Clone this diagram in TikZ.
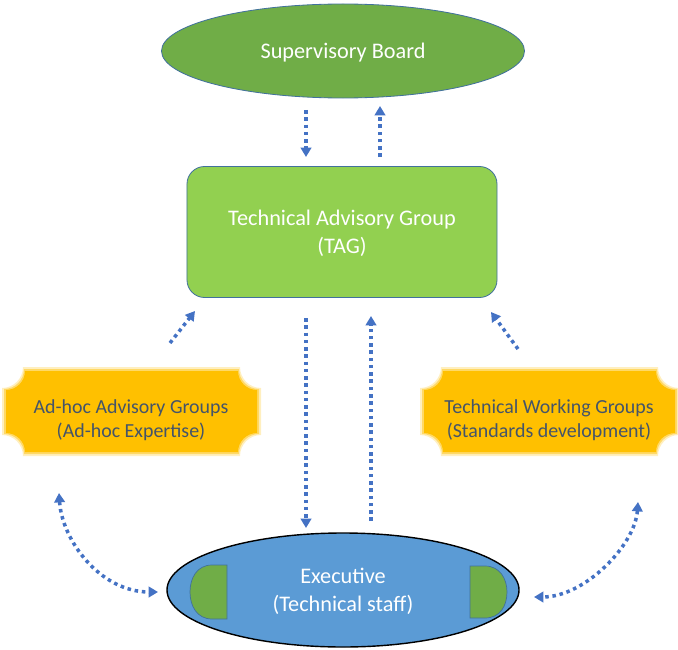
\documentclass[tikz,border=0pt]{standalone}
\usepackage{fontspec}
\setmainfont{Carlito}
\usetikzlibrary{arrows.meta,shapes.geometric}

\definecolor{boardgreen}{HTML}{70AD47}
\definecolor{taggreen}{HTML}{92D050}
\definecolor{execblue}{HTML}{5B9BD5}
\definecolor{groupyellow}{HTML}{FFC000}
\definecolor{linkblue}{HTML}{4472C4}
\definecolor{edgeblue}{HTML}{41719C}
\definecolor{grouptext}{HTML}{44546A}

% plaque with concave corners: x0 y0 x1 y1 radius colour
\newcommand\plaque[6]{%
  \fill[#6] (#1,#2+#5) .. controls (#1+0.55*#5,#2+#5) and (#1+#5,#2+0.55*#5) .. (#1+#5,#2)
    -- (#3-#5,#2) .. controls (#3-#5,#2+0.55*#5) and (#3-0.55*#5,#2+#5) .. (#3,#2+#5)
    -- (#3,#4-#5) .. controls (#3-0.55*#5,#4-#5) and (#3-#5,#4-0.55*#5) .. (#3-#5,#4)
    -- (#1+#5,#4) .. controls (#1+#5,#4-0.55*#5) and (#1+0.55*#5,#4-#5) .. (#1,#4-#5) -- cycle;}

\begin{document}
\begin{tikzpicture}[x=0.03cm,y=-0.03cm,
    bigtext/.style={font=\fontsize{19}{24}\selectfont, text=white, align=center, text depth=0pt},
    grouptxt/.style={font=\fontsize{17}{21}\selectfont, text=grouptext, align=center},
    link/.style={linkblue, line width=3pt, dash pattern=on 3pt off 3.2pt,
        -{Triangle[length=8pt,width=9pt]}},
    twolink/.style={link, {Triangle[length=8pt,width=9pt]}-{Triangle[length=8pt,width=9pt]}},
    half/.style={fill=boardgreen, draw=edgeblue, line width=0.6pt}]
    \useasboundingbox (0,0) rectangle (678,649);

    % Supervisory Board
    \node[ellipse, draw=edgeblue, line width=0.7pt, fill=boardgreen, inner sep=0pt,
        minimum width=10.89cm, minimum height=2.82cm, bigtext] (board) at (343,51)
        {Supervisory Board};

    % Technical Advisory Group
    \node[draw=edgeblue, line width=0.7pt, fill=taggreen, rounded corners=15pt,
        minimum width=9.3cm, minimum height=3.93cm, bigtext] (tag) at (342,232)
        {Technical Advisory Group\\(TAG)};

    % Executive
    \node[ellipse, draw=black, line width=1.2pt, fill=execblue, inner sep=0pt,
        minimum width=10.56cm, minimum height=3.42cm, bigtext] (exec) at (343,590)
        {Executive\\(Technical staff)};
    \draw[half] (227,565) -- (212,565) .. controls (197,565) and (190,578) .. (190,592)
        .. controls (190,606) and (197,619) .. (212,619) -- (227,619) -- cycle;
    \draw[half] (470,566) -- (485,566) .. controls (500,566) and (507,579) .. (507,592)
        .. controls (507,606) and (500,618) .. (485,618) -- (470,618) -- cycle;

    % Groups
    \plaque{2}{367}{261}{456}{21}{groupyellow!25}
    \plaque{4}{369}{259}{454}{20}{groupyellow!60}
    \plaque{6}{371}{257}{452}{19}{groupyellow}
    \node[grouptxt] (adhoc) at (131,420) {Ad-hoc Advisory Groups\\(Ad-hoc Expertise)};

    \plaque{420}{367}{679}{456}{21}{groupyellow!25}
    \plaque{422}{369}{677}{454}{20}{groupyellow!60}
    \plaque{424}{371}{675}{452}{19}{groupyellow}
    \node[grouptxt] (twg) at (549,420) {Technical Working Groups\\(Standards development)};

    % arrow ends
    \coordinate (sbdowna) at (306,110);
    \coordinate (sbdownb) at (306,157);
    \coordinate (sbupa) at (380,157);
    \coordinate (sbupb) at (380,106);
    \coordinate (exdowna) at (306,318);
    \coordinate (exdownb) at (306,528);
    \coordinate (exupa) at (371,521);
    \coordinate (exupb) at (371,316);
    \coordinate (adhocout) at (170,343);
    \coordinate (adhocin) at (195,311);
    \coordinate (twgout) at (518,349);
    \coordinate (twgin) at (491,312);
    \coordinate (adhoclow) at (59,493);
    \coordinate (execleft) at (158,592);
    \coordinate (twglow) at (638,502);
    \coordinate (execright) at (534,597);

    % links
    \draw[link] (sbdowna) -- (sbdownb);
    \draw[link] (sbupa) -- (sbupb);
    \draw[link] (exdowna) -- (exdownb);
    \draw[link] (exupa) -- (exupb);
    \draw[link] (adhocout) -- (adhocin);
    \draw[link] (twgout) -- (twgin);
    \draw[twolink] (adhoclow) .. controls (62,540) and (100,592) .. (execleft);
    \draw[twolink] (twglow) .. controls (635,545) and (585,597) .. (execright);
\end{tikzpicture}
\end{document}
